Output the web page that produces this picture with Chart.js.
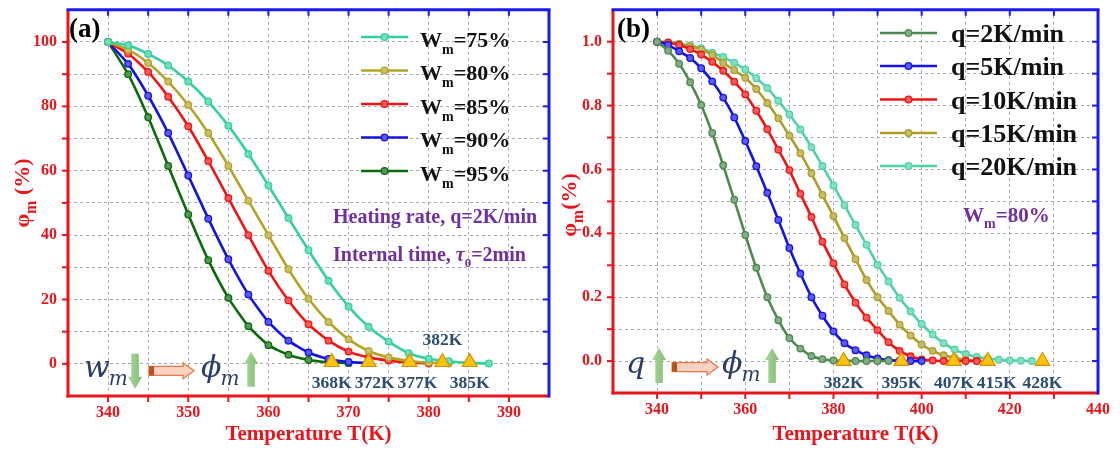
<!DOCTYPE html>
<html>
<head>
<meta charset="utf-8">
<title>Phase fraction vs temperature</title>
<script src="https://cdn.jsdelivr.net/npm/chart.js@4.4.1/dist/chart.umd.min.js"></script>
<style>
  html, body { margin:0; padding:0; background:#ffffff; }
  #wrap { position:relative; width:1120px; height:450px; overflow:hidden; background:#fff; }
  canvas { position:absolute; top:0; }
  #cA { left:0; }
  #cB { left:560px; }
</style>
</head>
<body>
<div id="wrap">
  <canvas id="cA" width="560" height="450"></canvas>
  <canvas id="cB" width="560" height="450"></canvas>
</div>
<script>
// ================= Panel (a) data =================
const tempsA = [340, 342.5, 345, 347.5, 350, 352.5, 355, 357.5, 360, 362.5,
                365, 367.5, 370, 372.5, 375, 377.5, 380, 382.5, 385, 387.5];
const wm75 = [100, 99.0, 96.3, 92.7, 87.7, 81.5, 74.0, 65.2, 55.4, 45.3, 35.3, 25.8, 17.8, 11.5, 6.9, 3.3, 1.6, 0.8, 0.3, 0.1];
const wm80 = [100, 97.6, 93.5, 87.7, 80.4, 71.7, 61.5, 50.7, 40.0, 29.4, 20.2, 13.0, 7.6, 4.0, 2.0, 0.9, 0.4, 0.1];
const wm85 = [100, 96.4, 90.7, 83.0, 73.8, 63.0, 51.5, 40.0, 28.9, 19.7, 12.3, 7.2, 3.8, 2.0, 1.0, 0.4, 0.1];
const wm90 = [100, 93.2, 83.3, 71.7, 58.5, 45.1, 32.5, 21.5, 13.0, 7.2, 3.5, 1.5, 0.6, 0.2];
const wm95 = [100, 90.0, 76.6, 61.5, 46.4, 32.2, 20.5, 11.7, 5.8, 2.8, 1.2, 0.5, 0.2];
const labelsA = ['W_m=75%', 'W_m=80%', 'W_m=85%', 'W_m=90%', 'W_m=95%'];
const onsetTempsA = [367.9, 372.5, 377.6, 381.7, 385.1];
const onsetLabelsA = ['368K', '372K', '377K', '382K', '385K'];
const xLabelsA = [340, 350, 360, 370, 380, 390];
const yLabelsA = [0, 20, 40, 60, 80, 100];

// ================= Panel (b) data =================
const tempsB = [340, 342.5, 345, 347.5, 350, 352.5, 355, 357.5, 360, 362.5,
                365, 367.5, 370, 372.5, 375, 377.5, 380, 382.5, 385, 387.5,
                390, 392.5, 395, 397.5, 400, 402.5, 405, 407.5, 410, 412.5,
                415, 417.5, 420, 422.5, 425];
const q2  = [1.0, 0.972, 0.931, 0.873, 0.802, 0.714, 0.613, 0.505, 0.395, 0.292, 0.200, 0.128, 0.072, 0.039, 0.016, 0.006, 0.002, 0.001, 0.0, 0.0, 0.0, 0.0];
const q5  = [1.0, 0.990, 0.970, 0.949, 0.917, 0.876, 0.825, 0.763, 0.689, 0.610, 0.527, 0.442, 0.354, 0.274, 0.200, 0.142, 0.093, 0.056, 0.034, 0.018, 0.008, 0.003, 0.001, 0.0, 0.0];
const q10 = [1.0, 0.997, 0.990, 0.977, 0.960, 0.937, 0.909, 0.875, 0.835, 0.784, 0.726, 0.662, 0.598, 0.524, 0.451, 0.374, 0.306, 0.240, 0.183, 0.136, 0.097, 0.059, 0.032, 0.015, 0.005, 0.002, 0.0, 0.0, 0.0, 0.0];
const q15 = [1.0, 0.998, 0.993, 0.985, 0.975, 0.959, 0.934, 0.911, 0.887, 0.852, 0.808, 0.760, 0.706, 0.651, 0.588, 0.520, 0.454, 0.385, 0.319, 0.254, 0.200, 0.157, 0.114, 0.080, 0.052, 0.032, 0.018, 0.010, 0.004, 0.001, 0.0];
const q20 = [1.0, 0.998, 0.994, 0.988, 0.980, 0.966, 0.952, 0.934, 0.913, 0.886, 0.855, 0.815, 0.772, 0.725, 0.670, 0.611, 0.550, 0.488, 0.426, 0.364, 0.302, 0.249, 0.198, 0.155, 0.116, 0.083, 0.056, 0.036, 0.022, 0.013, 0.008, 0.004, 0.002, 0.001, 0.0];
const labelsB = ['q=2K/min', 'q=5K/min', 'q=10K/min', 'q=15K/min', 'q=20K/min'];
const onsetTempsB = [382.3, 395.4, 407.3, 415.0, 427.4];
const onsetLabelsB = ['382K', '395K', '407K', '415K', '428K'];
const xLabelsB = [340, 360, 380, 400, 420, 440];
const yLabelsB = [0, 0.2, 0.4, 0.6, 0.8, 1.0];

// ================= styling =================
const RED = '#e8151c', BLUE = '#1a1aee', PURPLE = '#7030a0', SLATE = '#2b4c73';
const SERIF = '"Liberation Serif", "Times New Roman", serif';
const MATH = '"DejaVu Serif", serif';
const colorsA = ['#33d19c', '#b4a428', '#f01414', '#1414e0', '#0b6b0b'];
const colorsB = ['#4e8a50', '#1414e6', '#f01414', '#ae9e28', '#50d2a8'];

function lighten(hex, f) {
  const n = parseInt(hex.slice(1), 16);
  const r = (n >> 16) & 255, g = (n >> 8) & 255, b = n & 255;
  const m = c => Math.round(c + (255 - c) * f);
  return `rgb(${m(r)},${m(g)},${m(b)})`;
}
function stepTicks(min, max, step) {
  const out = [];
  const n = Math.round((max - min) / step);
  for (let i = 0; i <= n; i++) out.push({ value: +(min + i * step).toFixed(6) });
  return out;
}
const has = (arr, v) => arr.some(a => Math.abs(a - v) < 1e-6);

function parseRich(str) {
  const parts = []; let buf = '';
  for (let i = 0; i < str.length; i++) {
    if (str[i] === '_') { if (buf) parts.push({ t: buf }); buf = ''; parts.push({ t: str[i + 1], sub: true }); i++; }
    else buf += str[i];
  }
  if (buf) parts.push({ t: buf });
  return parts;
}
function drawRich(ctx, parts, x, y, size, o) {
  o = o || {};
  const fam = o.family || SERIF, weight = o.weight || 'bold';
  const subScale = o.subScale || 0.68, subDrop = o.subDrop || 0.3;
  const fontFor = p => `${(p.it || o.italic) ? 'italic ' : ''}${weight} ${p.sub ? Math.round(size * subScale) : size}px ${p.fam || fam}`;
  let w = 0;
  parts.forEach(p => { ctx.font = fontFor(p); p.w = ctx.measureText(p.t).width; w += p.w; });
  let cx = o.align === 'center' ? x - w / 2 : x;
  ctx.textAlign = 'left'; ctx.textBaseline = 'alphabetic';
  ctx.fillStyle = o.color || '#000';
  parts.forEach(p => { ctx.font = fontFor(p); ctx.fillText(p.t, cx, p.sub ? y + size * subDrop : y); cx += p.w; });
  return w;
}
function seg(ctx, x1, y1, x2, y2) { ctx.beginPath(); ctx.moveTo(x1, y1); ctx.lineTo(x2, y2); ctx.stroke(); }
function blockArrow(ctx, x1, y1, x2, y2, shaftW, headW, headLen) {
  const dx = x2 - x1, dy = y2 - y1, L = Math.hypot(dx, dy);
  const ux = dx / L, uy = dy / L, px = -uy, py = ux;
  const hx = x2 - ux * headLen, hy = y2 - uy * headLen;
  ctx.beginPath();
  ctx.moveTo(x1 + px * shaftW / 2, y1 + py * shaftW / 2);
  ctx.lineTo(hx + px * shaftW / 2, hy + py * shaftW / 2);
  ctx.lineTo(hx + px * headW / 2, hy + py * headW / 2);
  ctx.lineTo(x2, y2);
  ctx.lineTo(hx - px * headW / 2, hy - py * headW / 2);
  ctx.lineTo(hx - px * shaftW / 2, hy - py * shaftW / 2);
  ctx.lineTo(x1 - px * shaftW / 2, y1 - py * shaftW / 2);
  ctx.closePath();
}
function greenArrow(ctx, cx, yFrom, yTo) {
  const g = ctx.createLinearGradient(cx - 7, 0, cx + 7, 0);
  g.addColorStop(0, '#a9d69b'); g.addColorStop(1, '#82bd74');
  ctx.fillStyle = g;
  blockArrow(ctx, cx, yFrom, cx, yTo, 7.5, 14, 12);
  ctx.fill();
}
function orangeArrow(ctx, x1, x2, cy) {
  ctx.fillStyle = '#fcd3c1'; ctx.strokeStyle = '#e27a4c'; ctx.lineWidth = 1.3;
  blockArrow(ctx, x1, cy, x2, cy, 9, 16, 11);
  ctx.fill(); ctx.stroke();
  ctx.fillStyle = '#b5531f';
  ctx.fillRect(x1, cy - 4.5, 5, 9);
}

function drawFrame(ctx, chart) {
  const a = chart.chartArea, xs = chart.scales.x, ys = chart.scales.y, L = 6;
  ctx.save();
  ctx.lineWidth = 2;
  const inner = (p, lo, hi) => p > lo + 2 && p < hi - 2;
  ctx.strokeStyle = RED;
  xs.ticks.forEach(t => { const p = xs.getPixelForValue(t.value); if (inner(p, a.left, a.right)) seg(ctx, p, a.bottom, p, a.bottom + L); });
  ys.ticks.forEach(t => { const p = ys.getPixelForValue(t.value); if (inner(p, a.top, a.bottom)) seg(ctx, a.left - L, p, a.left, p); });
  ctx.strokeStyle = BLUE;
  xs.ticks.forEach(t => { const p = xs.getPixelForValue(t.value); if (inner(p, a.left, a.right)) seg(ctx, p, a.top, p, a.top + L); });
  ys.ticks.forEach(t => { const p = ys.getPixelForValue(t.value); if (inner(p, a.top, a.bottom)) seg(ctx, a.right - L, p, a.right, p); });
  ctx.lineWidth = 3;
  ctx.strokeStyle = RED;
  seg(ctx, a.left, a.top, a.left, a.bottom + 1.5);
  seg(ctx, a.left - 1.5, a.bottom, a.right, a.bottom);
  ctx.strokeStyle = BLUE;
  seg(ctx, a.left - 1.5, a.top, a.right + 1.5, a.top);
  seg(ctx, a.right, a.top, a.right, a.bottom + 1.5);
  ctx.restore();
}

function drawLegend(ctx, cfg) {
  const lg = cfg.legend;
  cfg.labels.forEach((lab, i) => {
    const y = lg.rows[i];
    ctx.strokeStyle = cfg.colors[i]; ctx.lineWidth = 2.6;
    seg(ctx, lg.x1, y, lg.x2, y);
    ctx.beginPath(); ctx.arc((lg.x1 + lg.x2) / 2, y, 3.3, 0, Math.PI * 2);
    ctx.fillStyle = lighten(cfg.colors[i], 0.3); ctx.fill();
    ctx.lineWidth = 1.3; ctx.stroke();
    drawRich(ctx, parseRich(lab), lg.tx, y + lg.base, lg.size, { color: '#111', subScale: 0.62, subDrop: 0.33 });
  });
}

function drawOnsetLabels(ctx, chart, cfg) {
  const xs = chart.scales.x, ys = chart.scales.y;
  ctx.save();
  ctx.font = `bold 17.5px ${SERIF}`; ctx.fillStyle = SLATE; ctx.textBaseline = 'alphabetic'; ctx.textAlign = 'left';
  let prevEnd = -1e9;
  const yBase = ys.getPixelForValue(0);
  cfg.onsetLabels.forEach((lab, i) => {
    const cx = xs.getPixelForValue(cfg.onset[i]);
    const w = ctx.measureText(lab).width;
    if (cfg.aboveIdx === i) { ctx.fillText(lab, cx - w / 2, yBase - 19); return; }
    let x0 = cx - w / 2;
    if (x0 < prevEnd + 3) x0 = prevEnd + 3;
    ctx.fillText(lab, x0, yBase + cfg.labelDrop);
    prevEnd = x0 + w;
  });
  ctx.restore();
}

function makePanel(canvas, cfg) {
  const datasets = cfg.values.map((vals, i) => ({
    type: 'line', label: cfg.labels[i],
    data: vals.map((v, j) => ({ x: cfg.temps[j], y: v })),
    borderColor: cfg.colors[i], borderWidth: 2.6,
    pointRadius: 3.3, pointBorderWidth: 1.3, pointHoverRadius: 0,
    pointBorderColor: cfg.colors[i], pointBackgroundColor: lighten(cfg.colors[i], 0.3),
    tension: 0.2, fill: false, order: 2 + i
  }));
  datasets.push({
    type: 'scatter', label: 'onset',
    data: cfg.onset.map(t => ({ x: t, y: cfg.onsetY })),
    pointStyle: 'triangle', pointRadius: 8.6, pointBorderWidth: 1.2, pointHoverRadius: 0,
    pointBackgroundColor: '#ffc20e', pointBorderColor: '#d49500', showLine: false, order: 0
  });
  const tickFont = { family: SERIF, size: 16, weight: 'bold' };
  const decor = {
    id: 'decor' + canvas.id,
    afterDraw(chart) {
      const ctx = chart.ctx, a = chart.chartArea;
      drawFrame(ctx, chart);
      ctx.save();
      drawLegend(ctx, cfg);
      drawOnsetLabels(ctx, chart, cfg);
      // panel tag
      ctx.font = `bold 27px ${SERIF}`; ctx.fillStyle = '#000'; ctx.textAlign = 'left'; ctx.textBaseline = 'alphabetic';
      ctx.fillText(cfg.tag, a.left + cfg.tagDx, a.top + 27);
      // notes
      cfg.notes.forEach(n => drawRich(ctx, n.parts, n.x, n.y, n.size, { color: PURPLE, subScale: 0.65, subDrop: 0.3 }));
      // x title
      drawRich(ctx, [{ t: 'Temperature T(K)' }], (a.left + a.right) / 2, 440, 21, { color: RED, align: 'center' });
      // y title (rotated)
      ctx.save();
      ctx.translate(cfg.yTitle.x, cfg.yTitle.y); ctx.rotate(-Math.PI / 2);
      drawRich(ctx, cfg.yTitle.parts, 0, 7, 22, { color: RED, align: 'center', subScale: 0.72, subDrop: 0.3 });
      ctx.restore();
      // bottom-left qualitative annotation
      const ax = chart.scales.x.getPixelForValue(340), ay = chart.scales.y.getPixelForValue(0);
      cfg.sketch(ctx, ax, ay);
      ctx.restore();
    }
  };
  return new Chart(canvas, {
    data: { datasets },
    plugins: [decor],
    options: {
      responsive: false, animation: false, devicePixelRatio: 1, events: [],
      layout: { padding: cfg.padding },
      plugins: { legend: { display: false }, tooltip: { enabled: false } },
      scales: {
        x: {
          type: 'linear', position: 'bottom', min: cfg.xmin, max: cfg.xmax,
          afterBuildTicks: s => { s.ticks = stepTicks(cfg.xmin, cfg.xmax, cfg.xstep); },
          afterFit: s => { s.height = cfg.xHeight; s.paddingLeft = 0; s.paddingRight = 0; },
          grid: { color: '#aaaaaa', lineWidth: 1, drawTicks: false },
          border: { display: false, dash: [3, 3] },
          ticks: { autoSkip: false, maxRotation: 0, padding: 7, color: RED, font: tickFont,
                   callback: v => has(cfg.xLabels, v) ? String(Math.round(v)) : '' }
        },
        y: {
          type: 'linear', position: 'left', min: cfg.ymin, max: cfg.ymax,
          afterBuildTicks: s => { s.ticks = stepTicks(cfg.ymin, cfg.ymax, cfg.ystep); },
          afterFit: s => { s.width = cfg.yWidth; s.paddingTop = 0; s.paddingBottom = 0; },
          grid: { color: '#aaaaaa', lineWidth: 1, drawTicks: false },
          border: { display: false, dash: [3, 3] },
          ticks: { autoSkip: false, padding: 11, color: RED, font: tickFont,
                   callback: v => has(cfg.yLabels, v) ? cfg.yFmt(v) : '' }
        }
      }
    }
  });
}

function mathText(ctx, base, x, y, color) {
  ctx.fillStyle = color; ctx.textAlign = 'left'; ctx.textBaseline = 'alphabetic';
  ctx.font = `italic 30px ${MATH}`;
  ctx.fillText(base, x, y);
  const w = ctx.measureText(base).width;
  ctx.font = `italic 20px ${MATH}`;
  return w;
}

// ---------------- Panel (a) ----------------
makePanel(document.getElementById('cA'), {
  temps: tempsA, values: [wm75, wm80, wm85, wm90, wm95], labels: labelsA, colors: colorsA,
  onset: onsetTempsA, onsetLabels: onsetLabelsA, onsetY: 0.5, aboveIdx: 3, labelDrop: 24,
  xmin: 335, xmax: 395, xstep: 5, ymin: -10, ymax: 110, ystep: 10,
  xLabels: xLabelsA, yLabels: yLabelsA, yFmt: v => String(Math.round(v)),
  padding: { left: 0, right: 11, top: 4, bottom: 0 }, yWidth: 68, xHeight: 54,
  legend: { x1: 361, x2: 408, tx: 420, rows: [37, 70.5, 104, 137.5, 171], base: 9.5, size: 22 },
  tag: '(a)', tagDx: 1,
  notes: [
    { parts: [{ t: 'Heating rate, q=2K/min' }], x: 333, y: 222.5, size: 20 },
    { parts: [{ t: 'Internal time, ' }, { t: 'τ', it: true }, { t: '0', sub: true }, { t: '=2min' }], x: 333, y: 260.5, size: 20 }
  ],
  yTitle: { x: 22, y: 193, parts: [{ t: 'φ' }, { t: 'm', sub: true }, { t: ' (%)' }] },
  sketch: (ctx, ax, ay) => {
    const navy = '#2a3e6a';
    let w = mathText(ctx, 'w', ax - 24, ay + 13, navy);
    ctx.fillText('m', ax - 24 + w - 1, ay + 21);
    greenArrow(ctx, ax + 27, ay - 10, ay + 25);
    orangeArrow(ctx, ax + 41, ax + 86, ay + 7);
    w = mathText(ctx, 'ϕ', ax + 93, ay + 13, navy);
    ctx.fillText('m', ax + 93 + w - 1, ay + 21);
    greenArrow(ctx, ax + 143, ay + 23, ay - 12);
  }
});

// ---------------- Panel (b) ----------------
makePanel(document.getElementById('cB'), {
  temps: tempsB, values: [q2, q5, q10, q15, q20], labels: labelsB, colors: colorsB,
  onset: onsetTempsB, onsetLabels: onsetLabelsB, onsetY: 0, aboveIdx: -1, labelDrop: 27,
  xmin: 330, xmax: 440, xstep: 10, ymin: -0.1, ymax: 1.1, ystep: 0.1,
  xLabels: xLabelsB, yLabels: yLabelsB, yFmt: v => v.toFixed(1),
  padding: { left: 0, right: 22, top: 3, bottom: 0 }, yWidth: 53, xHeight: 57,
  legend: { x1: 320, x2: 377, tx: 391, rows: [33, 66, 99.5, 133, 166], base: 9, size: 26 },
  tag: '(b)', tagDx: 4,
  notes: [
    { parts: [{ t: 'W' }, { t: 'm', sub: true }, { t: '=80%' }], x: 403, y: 222, size: 21 }
  ],
  yTitle: { x: 9, y: 205, parts: [{ t: 'φ' }, { t: 'm', sub: true }, { t: '(%)' }] },
  sketch: (ctx, ax, ay) => {
    const navy = '#2a3e6a';
    mathText(ctx, 'q', ax - 31, ay + 12, navy);
    greenArrow(ctx, ax + 2, ay + 22, ay - 13);
    orangeArrow(ctx, ax + 15, ax + 61, ay + 6);
    const w = mathText(ctx, 'ϕ', ax + 65, ay + 12, navy);
    ctx.fillText('m', ax + 65 + w - 1, ay + 20);
    greenArrow(ctx, ax + 115, ay + 22, ay - 13);
  }
});
</script>
</body>
</html>
